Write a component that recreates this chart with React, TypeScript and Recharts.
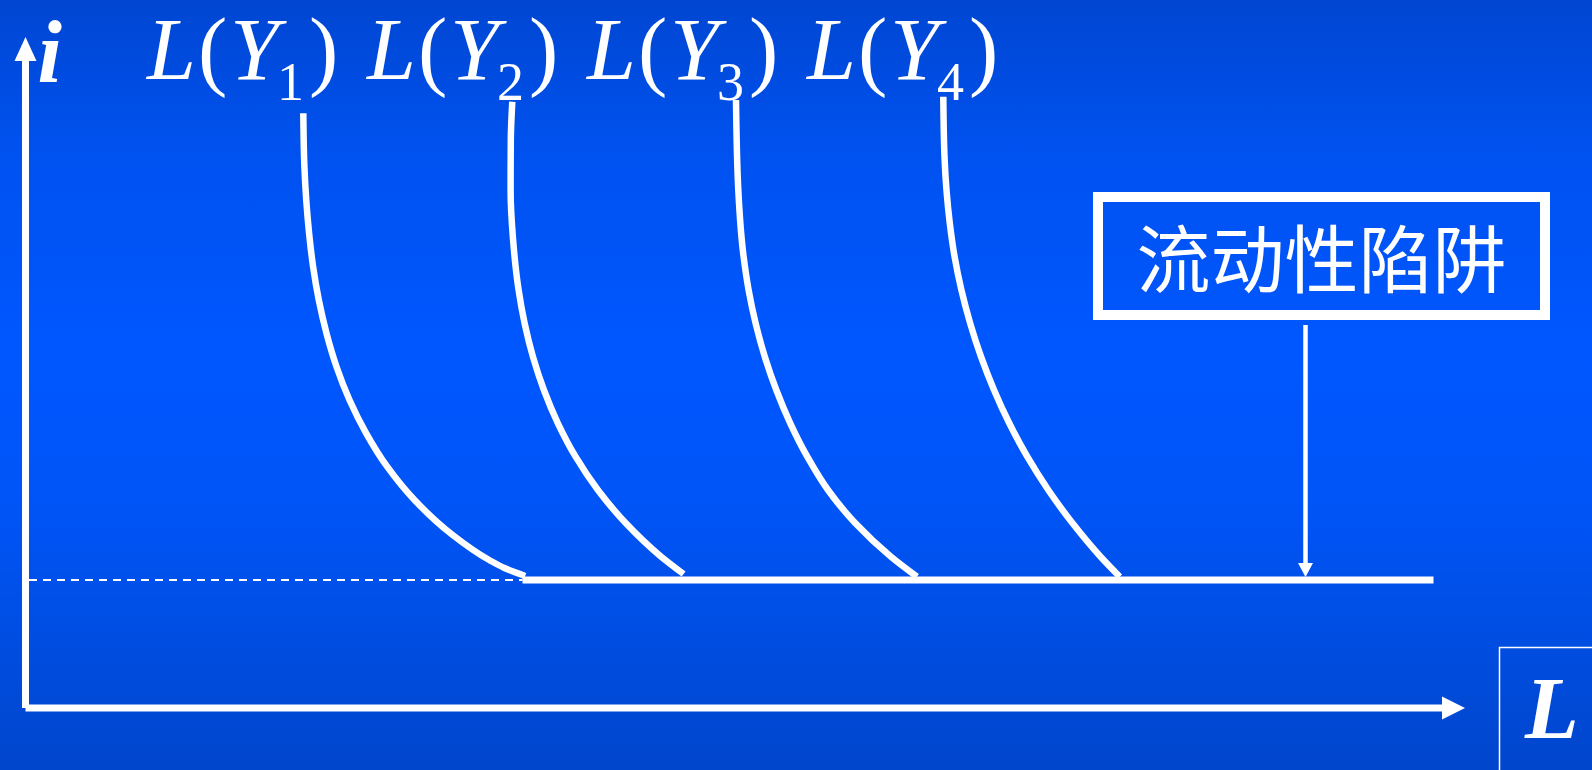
import { ComposedChart, Line, XAxis, YAxis, ReferenceLine, ReferenceDot, ReferenceArea, Label } from 'recharts';

// money demand curves L(Y1..Y4) flattening into the liquidity trap
const curveY1 = [
  { x: 27.78, y: 59.47 }, { x: 27.89, y: 54.13 }, { x: 28.36, y: 47.47 }, { x: 28.76, y: 44.13 },
  { x: 29.33, y: 40.8 }, { x: 30.1, y: 37.47 }, { x: 31.1, y: 34.13 }, { x: 32.4, y: 30.8 },
  { x: 34.07, y: 27.47 }, { x: 36.17, y: 24.13 }, { x: 38.9, y: 20.8 }, { x: 42.5, y: 17.47 },
  { x: 46.37, y: 14.8 }, { x: 47.89, y: 14.0 }, { x: 49.97, y: 13.2 },
];
const curveY2 = [
  { x: 48.68, y: 60.63 }, { x: 48.53, y: 56.8 }, { x: 48.51, y: 51.8 }, { x: 48.76, y: 46.8 },
  { x: 49.31, y: 41.8 }, { x: 49.91, y: 38.47 }, { x: 50.74, y: 35.13 }, { x: 51.84, y: 31.8 },
  { x: 53.24, y: 28.47 }, { x: 55.01, y: 25.13 }, { x: 57.24, y: 21.8 }, { x: 60.04, y: 18.47 },
  { x: 63.57, y: 15.13 }, { x: 65.81, y: 13.4 },
];
const curveY3 = [
  { x: 71.05, y: 60.8 }, { x: 71.28, y: 51.8 }, { x: 71.81, y: 45.13 }, { x: 72.31, y: 41.8 },
  { x: 73.01, y: 38.47 }, { x: 73.93, y: 35.13 }, { x: 75.08, y: 31.8 }, { x: 76.48, y: 28.47 },
  { x: 78.18, y: 25.13 }, { x: 80.25, y: 21.8 }, { x: 82.99, y: 18.47 }, { x: 86.55, y: 15.13 },
  { x: 89.15, y: 13.13 },
];
const curveY4 = [
  { x: 91.78, y: 61.13 }, { x: 91.9, y: 55.13 }, { x: 92.43, y: 48.47 }, { x: 92.91, y: 45.13 },
  { x: 93.59, y: 41.8 }, { x: 94.47, y: 38.47 }, { x: 95.55, y: 35.13 }, { x: 96.85, y: 31.8 },
  { x: 98.38, y: 28.47 }, { x: 100.18, y: 25.13 }, { x: 102.28, y: 21.8 }, { x: 104.71, y: 18.47 },
  { x: 107.51, y: 15.13 }, { x: 109.43, y: 13.13 },
];
const curves = [curveY1, curveY2, curveY3, curveY4];
const incomeSubs = ['1', '2', '3', '4'];

const trapRate = 12.8;
const trapLine = [{ x: 49.7, y: trapRate }, { x: 140.8, y: trapRate }];
const trapText = '流动性陷阱';
const yAxisName = 'i';
const xAxisName = 'L';

// layout (data units: origin at the axes corner)
const W = 1592;
const H = 770;
const X_DOMAIN: [number, number] = [-2.55, 156.65];
const Y_DOMAIN: [number, number] = [-6.2, 70.8];
const X_END = 141.65;
const X_TIP = 143.95;
const Y_END = 64.7;
const Y_TIP = 67.1;
const labelSlots = [12.15, 34.15, 56.15, 78.15];
const labelBase = 62.9;
const trapArrowX = 128.0;

const serif = '"Liberation Serif", "Times New Roman", serif';

const upArrow = ({ cx, cy }: any) => (
  <path d={`M${cx},${cy} L${cx - 11},${cy + 24} L${cx + 11},${cy + 24} Z`} fill="#fff" />
);
const rightArrow = ({ cx, cy }: any) => (
  <path d={`M${cx},${cy} L${cx - 23},${cy - 11.5} L${cx - 23},${cy + 11.5} Z`} fill="#fff" />
);
const downArrow = ({ cx, cy }: any) => (
  <path d={`M${cx},${cy} L${cx - 7.5},${cy - 14} L${cx + 7.5},${cy - 14} Z`} fill="#fff" />
);

const curveLabel = (sub: string) => ({ cx, cy }: any) => (
  <text y={cy} fill="#fff" fontFamily={serif} fontSize={88}>
    <tspan x={cx} fontStyle="italic">L</tspan>
    <tspan x={cx + 51}>(</tspan>
    <tspan x={cx + 83} fontStyle="italic">Y</tspan>
    <tspan x={cx + 130} dy={21} fontSize={54}>{sub}</tspan>
    <tspan x={cx + 162} dy={-21}>)</tspan>
  </text>
);

const axisName = (name: string, size: number) => ({ cx, cy }: any) => (
  <text x={cx} y={cy} fill="#fff" fontFamily={serif} fontSize={size} fontStyle="italic" fontWeight="bold">
    {name}
  </text>
);

export default function App() {
  return (
    <div
      style={{
        position: 'absolute',
        left: 0,
        top: 0,
        width: W,
        height: H,
        background: 'linear-gradient(180deg, #0046d2 0%, #0052f0 20%, #0057ff 45%, #0055f8 65%, #0046cc 100%)',
      }}
    >
      <ComposedChart width={W} height={H} margin={{ top: 0, right: 0, bottom: 0, left: 0 }}>
        <XAxis type="number" dataKey="x" domain={X_DOMAIN} hide />
        <YAxis type="number" dataKey="y" domain={Y_DOMAIN} hide />

        {/* axes */}
        <ReferenceLine segment={[{ x: 0, y: 0 }, { x: X_END, y: 0 }]} stroke="#fff" strokeWidth={7} />
        <ReferenceLine segment={[{ x: 0, y: 0 }, { x: 0, y: Y_END }]} stroke="#fff" strokeWidth={7} />
        <ReferenceDot x={0} y={Y_TIP} shape={upArrow} />
        <ReferenceDot x={X_TIP} y={0} shape={rightArrow} />

        {/* dashed guide to the trap rate */}
        <ReferenceLine
          segment={[{ x: 0.35, y: trapRate }, { x: trapLine[0].x, y: trapRate }]}
          stroke="#fff"
          strokeWidth={2}
          strokeDasharray="8 6"
        />

        {curves.map((c, k) => (
          <Line
            key={k}
            data={c}
            dataKey="y"
            type="monotoneY"
            stroke="#fff"
            strokeWidth={6.5}
            dot={false}
            activeDot={false}
            isAnimationActive={false}
          />
        ))}
        <Line
          data={trapLine}
          dataKey="y"
          type="linear"
          stroke="#fff"
          strokeWidth={7}
          dot={false}
          activeDot={false}
          isAnimationActive={false}
        />

        {/* liquidity trap callout */}
        <ReferenceArea x1={107.25} x2={151.95} y1={39.3} y2={51.1} fill="none" stroke="#fff" strokeWidth={10}>
          <Label
            value={trapText}
            position="center"
            fill="#fff"
            fontSize={74}
            fontFamily='"Noto Sans CJK SC", sans-serif'
            dy={5}
          />
        </ReferenceArea>
        <ReferenceLine segment={[{ x: trapArrowX, y: 38.3 }, { x: trapArrowX, y: 14.0 }]} stroke="#fff" strokeWidth={4.5} />
        <ReferenceDot x={trapArrowX} y={13.1} shape={downArrow} />

        {/* L axis name box */}
        <ReferenceArea x1={147.4} x2={165} y1={-12} y2={6.05} fill="none" stroke="#fff" strokeWidth={1.5} ifOverflow="visible" />

        {incomeSubs.map((s, k) => (
          <ReferenceDot key={s} x={labelSlots[k]} y={labelBase} shape={curveLabel(s)} />
        ))}
        <ReferenceDot x={1.2} y={62.6} shape={axisName(yAxisName, 88)} />
        <ReferenceDot x={149.95} y={-3.0} shape={axisName(xAxisName, 88)} />
      </ComposedChart>
    </div>
  );
}
